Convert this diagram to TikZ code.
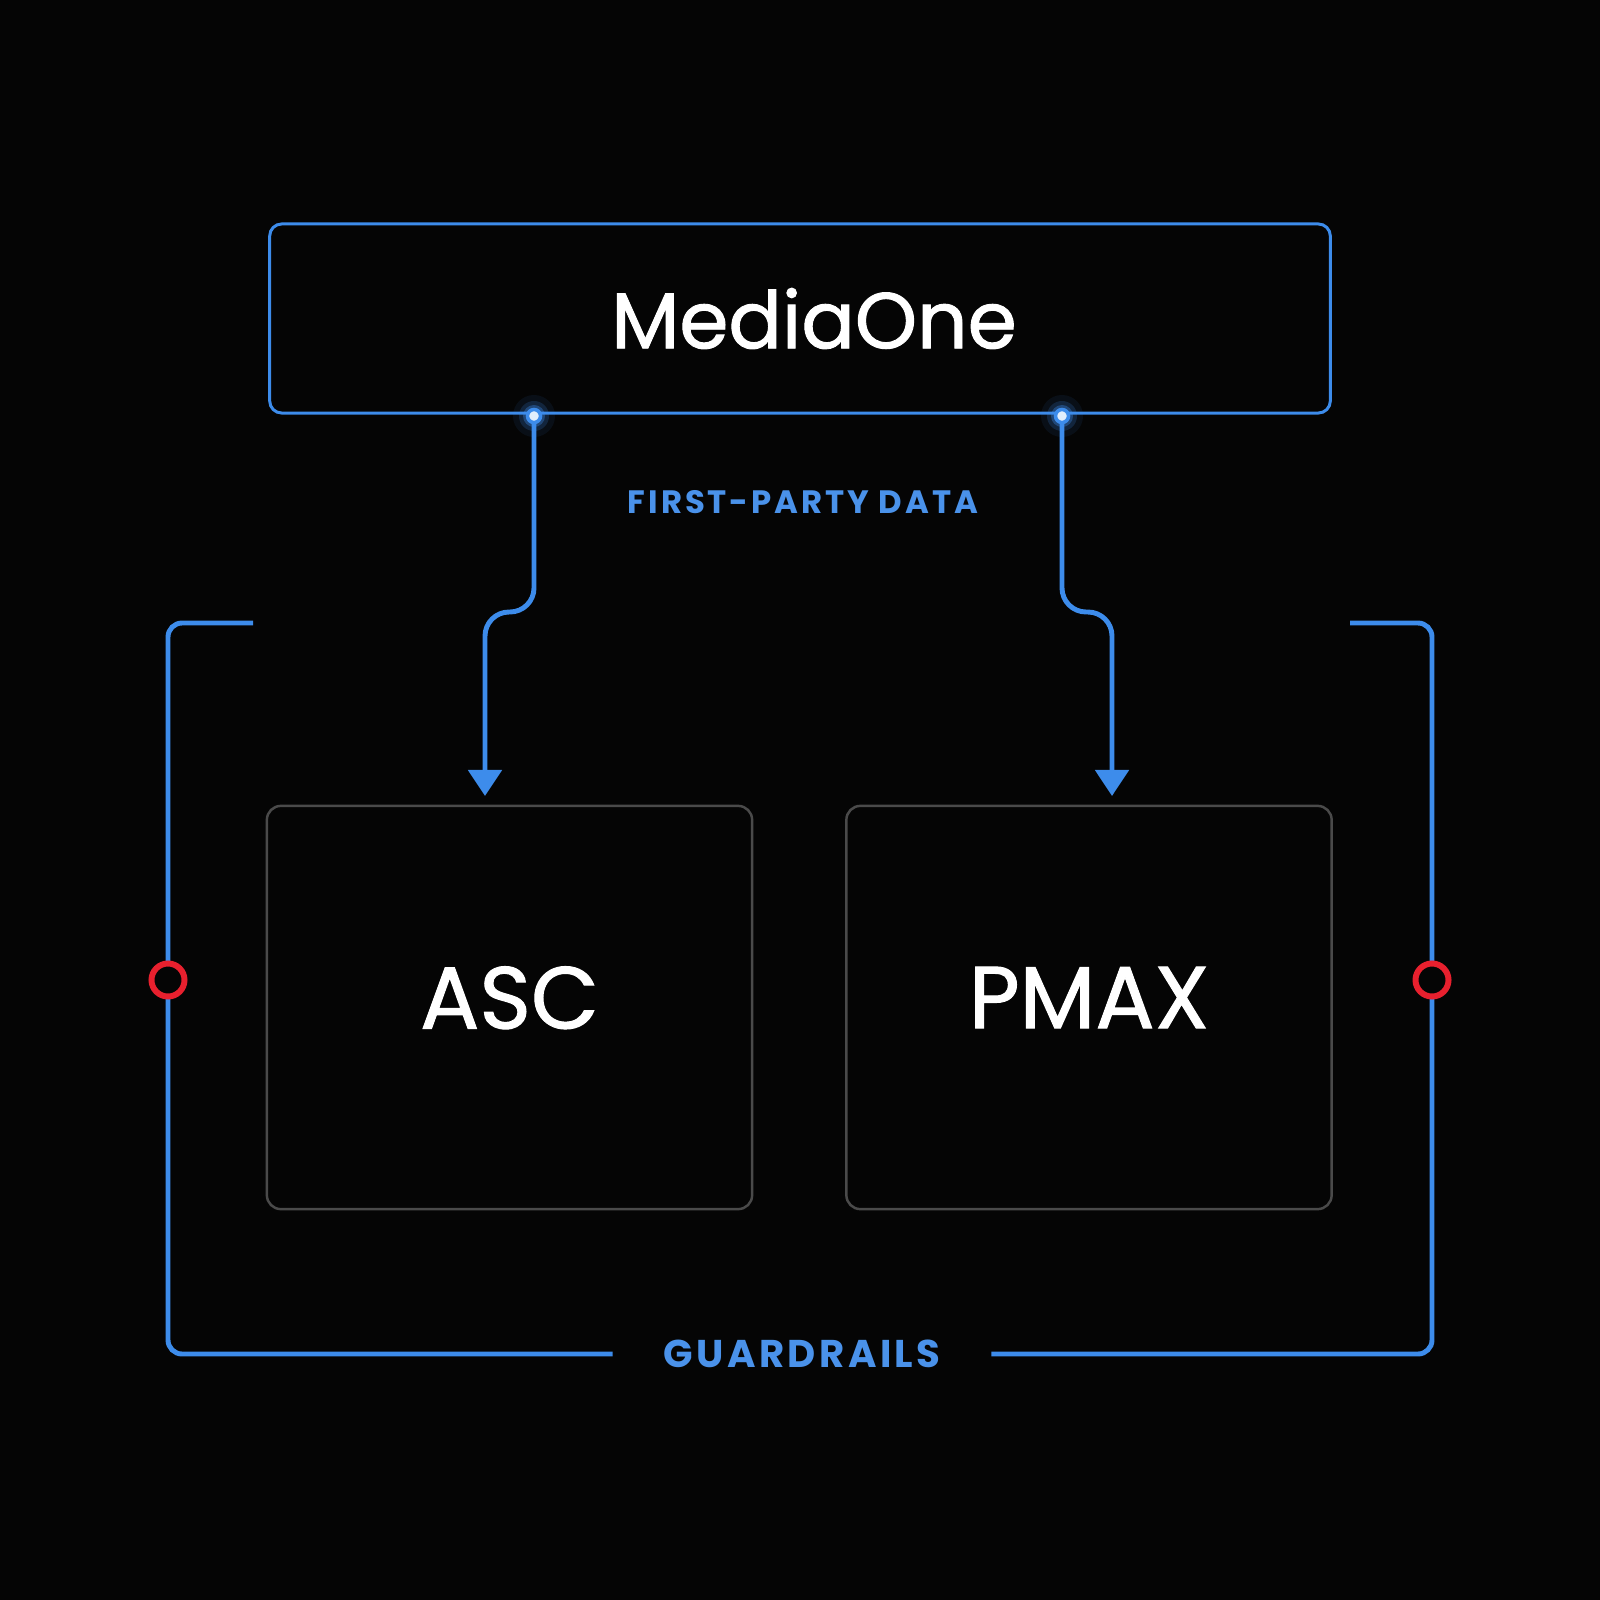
\documentclass[tikz,border=0pt]{standalone}
\usepackage{fontspec}
\setmainfont{Poppins}[UprightFeatures={FakeBold=1.2}]
\newfontfamily\tagfont{Poppins}[LetterSpace=9]
\usetikzlibrary{calc,arrows.meta}
\definecolor{bgBlack}{HTML}{050505}
\definecolor{wireBlue}{HTML}{3D8CEB}
\definecolor{tagBlue}{HTML}{4A92EA}
\definecolor{boxGrey}{HTML}{4A4A4A}
\definecolor{alertRed}{HTML}{E8202E}
\tikzset{
  hubbox/.style={rectangle, rounded corners=0.12cm, draw=wireBlue, fill=bgBlack, line width=0.85pt, minimum width=10.6cm, minimum height=1.89cm, text=white, font=\fontsize{22.5}{26}\selectfont},
  engbox/.style={rectangle, rounded corners=0.14cm, draw=boxGrey, fill=bgBlack, line width=0.7pt, minimum width=4.85cm, minimum height=4.03cm, text=white, text depth=0.2cm, font=\fontsize{25}{28}\selectfont},
  taglabel/.style={text=tagBlue, font=\tagfont\bfseries\fontsize{#1}{#1}\selectfont, inner sep=0pt},
  wire/.style={draw=wireBlue, line width=1.4pt},
  flowarrow/.style={wire, rounded corners=0.24cm, -{Triangle[length=2.6mm,width=3.3mm]}},
  railwire/.style={wire, rounded corners=0.14cm},
  stopring/.style={circle, draw=alertRed, fill=bgBlack, line width=1.7pt, minimum size=0.33cm, inner sep=0pt},
  % --- glowing tap on the hub border ---
  tapglow/.style={circle, fill=wireBlue, inner sep=0pt},
}

\begin{document}
\begin{tikzpicture}[x=0.01cm,y=-0.01cm]
  \fill[bgBlack] (0,0) rectangle (1600,1600);

  \node[hubbox] (hub) at (800,318.5) {\hspace*{0.28cm}MediaOne};
  \node[engbox] (asc) at (509.5,1007.5) {ASC};
  \node[engbox] (pmax) at (1089,1007.5) {PMAX};

  \node[taglabel=9.2] (fpd) at (803,502) {FIRST-PARTY DATA};

  \coordinate (tapL) at (534,416);
  \coordinate (tapR) at (1062,416);
  \coordinate (inL) at (485,796);
  \coordinate (inR) at (1112,796);

  \draw[flowarrow] (tapL) -- (tapL |- 0,612) -- (inL |- 0,612) -- (inL);
  \draw[flowarrow] (tapR) -- (tapR |- 0,612) -- (inR |- 0,612) -- (inR);

  \foreach \t in {tapL,tapR}{
    \node[tapglow, minimum size=0.42cm, opacity=0.08] at (\t) {};
    \node[tapglow, minimum size=0.30cm, opacity=0.18] at (\t) {};
    \node[tapglow, minimum size=0.22cm, opacity=0.35] at (\t) {};
    \node[circle, draw=wireBlue, fill=white!85!wireBlue, line width=1pt, minimum size=0.13cm, inner sep=0pt] at (\t) {};
  }

  % guardrail bracket round both engines
  \node[taglabel=11, inner xsep=0.5cm] (rails) at (802,1354) {GUARDRAILS};
  \coordinate (railTL) at (253,623);
  \coordinate (railTR) at (1350,623);
  \draw[railwire] (railTL) -- (168,623) -- (168,1354) -- (rails.west);
  \draw[railwire] (railTR) -- (1432,623) -- (1432,1354) -- (rails.east);

  \node[stopring] (stopL) at (168,980) {};
  \node[stopring] (stopR) at (1432,980) {};
\end{tikzpicture}
\end{document}
